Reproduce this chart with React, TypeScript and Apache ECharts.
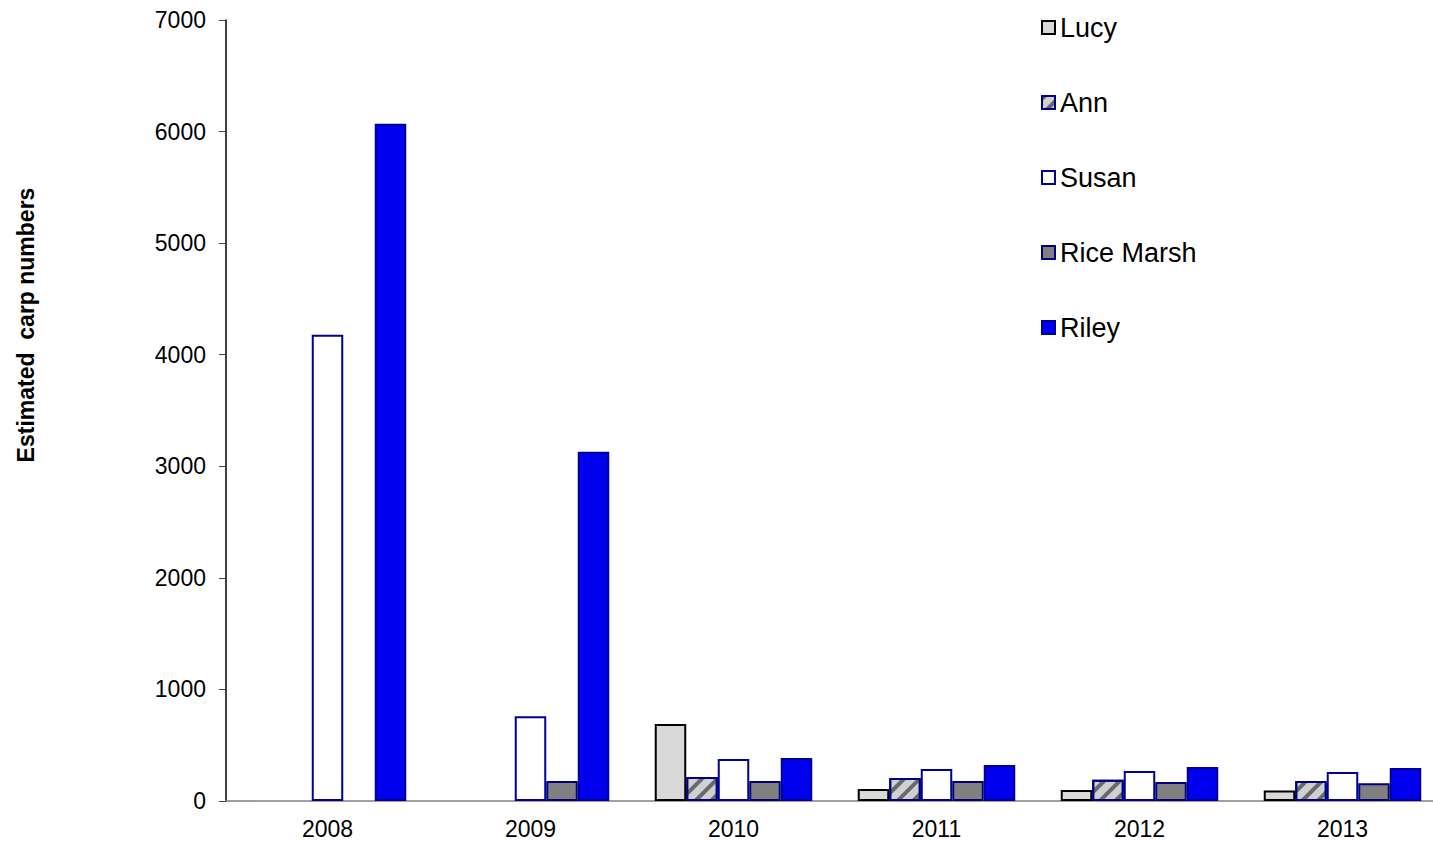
import React, { useEffect, useRef } from "react";
import * as echarts from "echarts";

const years = ["2008", "2009", "2010", "2011", "2012", "2013"];
const lucy = [null, null, 690, 108, 99, 95];
const ann = [null, null, 215, 206, 190, 180];
const susan = [4180, 760, 376, 287, 270, 260];
const riceMarsh = [null, 180, 180, 180, 170, 160];
const riley = [6070, 3130, 385, 323, 305, 296];
const yTicks = { min: 0, max: 7000, interval: 1000 };

const FONT = "Liberation Sans, Arial, sans-serif";

export default function App() {
  const ref = useRef<HTMLDivElement>(null);
  useEffect(() => {
    if (!ref.current) return;
    const chart = echarts.init(ref.current, undefined, { renderer: "svg" });
    const bar = (name: string, data: (number | null)[], itemStyle: any) => ({
      name,
      type: "bar",
      data,
      barWidth: 31.5,
      barGap: "0%",
      itemStyle: { borderWidth: 2, ...itemStyle },
    });
    chart.setOption({
      animation: false,
      backgroundColor: "#fff",
      textStyle: { fontFamily: FONT },
      grid: { left: 226, top: 20, width: 1218, height: 781 },
      legend: {
        orient: "vertical",
        left: 1036,
        top: 9,
        itemWidth: 13,
        itemHeight: 13,
        itemGap: 48,
        icon: "rect",
        textStyle: { fontSize: 27, lineHeight: 27, color: "#000", fontFamily: FONT },
        data: ["Lucy", "Ann", "Susan", "Rice Marsh", "Riley"],
      },
      xAxis: {
        type: "category",
        data: years,
        axisLine: { lineStyle: { color: "#808080", width: 1.5 } },
        axisTick: { length: 6, lineStyle: { color: "#808080" } },
        axisLabel: { fontSize: 23, color: "#000", margin: 16, fontFamily: FONT },
      },
      yAxis: {
        type: "value",
        ...yTicks,
        splitLine: { show: false },
        axisLine: { show: true, lineStyle: { color: "#000", width: 1.5 } },
        axisTick: { show: true, length: 7, lineStyle: { color: "#444" } },
        axisLabel: {
          fontSize: 23,
          color: "#000",
          margin: 20,
          fontFamily: FONT,
          formatter: (v: number) => String(v),
        },
      },
      graphic: [
        {
          type: "text",
          x: 26,
          y: 325,
          rotation: Math.PI / 2,
          style: {
            text: "Estimated  carp numbers",
            fontSize: 23,
            fontWeight: "bold",
            fontFamily: FONT,
            fill: "#000",
            align: "center",
            verticalAlign: "middle",
          },
        },
      ],
      series: [
        bar("Lucy", lucy, { color: "#d9d9d9", borderColor: "#000" }),
        bar("Ann", ann, {
          color: "#d0d0d0",
          borderColor: "#000080",
          decal: {
            symbol: "rect",
            color: "rgba(70,70,70,0.75)",
            dashArrayX: [1, 0],
            dashArrayY: [4, 7],
            rotation: -Math.PI / 4,
          },
        }),
        bar("Susan", susan, { color: "#ffffff", borderColor: "#000099" }),
        bar("Rice Marsh", riceMarsh, { color: "#808080", borderColor: "#000080" }),
        bar("Riley", riley, { color: "#0000ee", borderColor: "#000099" }),
      ],
    });
    return () => chart.dispose();
  }, []);
  return (
    <div
      style={{
        position: "absolute",
        left: 0,
        top: 0,
        width: 1433,
        height: 842,
        overflow: "hidden",
      }}
    >
      <div ref={ref} style={{ width: 1460, height: 842 }} />
    </div>
  );
}
